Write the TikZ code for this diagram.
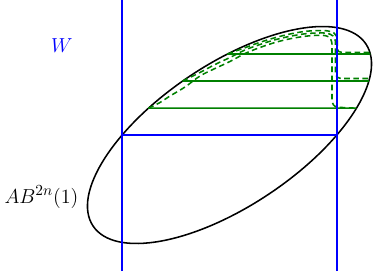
\documentclass[tikz,border=0pt]{standalone}
\usepackage{amsmath,amssymb}
\usetikzlibrary{intersections}

\begin{document}
\begin{tikzpicture}[
    wall/.style={draw=blue, line width=1.1pt},
    rim/.style={draw=black, line width=1.1pt},
    chord/.style={draw=green!50!black, line width=1.1pt},
    trace/.style={draw=green!50!black, line width=1.1pt, dash pattern=on 4pt off 2.5pt},
    lbl/.style={font=\fontsize{15.5}{18}\selectfont}
]
    \useasboundingbox (-5.7375,-3.4) rectangle (3.6125,3.375);

    % the ellipse AB^{2n}(1)
    \draw[rim, name path=rim, rotate=33.7] (0,0) ellipse (4.1 and 1.775);

    % horizontal chords
    \foreach \y/\k in {2.025/1, 1.35/2, 0.67/3} {
        \path[name path=cut] (-3,\y) -- (4,\y);
        \path[name intersections={of=rim and cut, by={L\k,R\k}, sort by=cut}];
        \draw[chord] (L\k) -- (R\k);
    }

    % images of the chords
    \draw[trace] plot[smooth, tension=0.6] coordinates {(L1) (0.3875,2.1825)
        (0.7625,2.3175) (1.1375,2.4325) (1.5125,2.525) (1.8875,2.59)
        (2.2125,2.61) (2.4375,2.605) (2.6125,2.55) (2.695,2.425)}
        -- (2.695,2.15) to[out=-90,in=180] (2.8,2.0675) -- (3.5125,2.0675);
    \draw[trace] plot[smooth, tension=0.6] coordinates {(L2) (-0.7375,1.5625)
        (-0.3625,1.7625) (0.0125,1.9375) (0.3875,2.125) (0.7625,2.2625)
        (1.1375,2.38) (1.5125,2.4675) (1.8875,2.53) (2.2125,2.55)
        (2.4375,2.5425) (2.5875,2.475) (2.65,2.3375)}
        -- (2.65,1.525) to[out=-90,in=180] (2.7875,1.4125) -- (3.5,1.4125);
    \draw[trace] plot[smooth, tension=0.6] coordinates {(L3) (-1.7375,0.8125)
        (-1.4875,0.975) (-1.1125,1.2) (-0.7375,1.475) (-0.3625,1.6625)
        (0.0125,1.8375) (0.3875,2.0375) (0.7625,2.1875) (1.1375,2.3125)
        (1.5125,2.405) (1.8875,2.4675) (2.2125,2.4925) (2.4125,2.48)
        (2.525,2.4125) (2.5625,2.275)}
        -- (2.5625,0.875) to[out=-90,in=180] (2.7125,0.6925) -- (R3);

    % the strip W
    \draw[wall] (-2.69,-3.4) -- (-2.69,3.375);
    \draw[wall] (2.69,-3.4) -- (2.69,3.375);
    \draw[wall] (-2.69,0) -- (2.69,0);

    \node[lbl, text=blue] (wlabel) at (-4.19,2.225) {$W$};
    \node[lbl] (imglabel) at (-4.7,-1.55) {$AB^{2n}(1)$};
\end{tikzpicture}
\end{document}
